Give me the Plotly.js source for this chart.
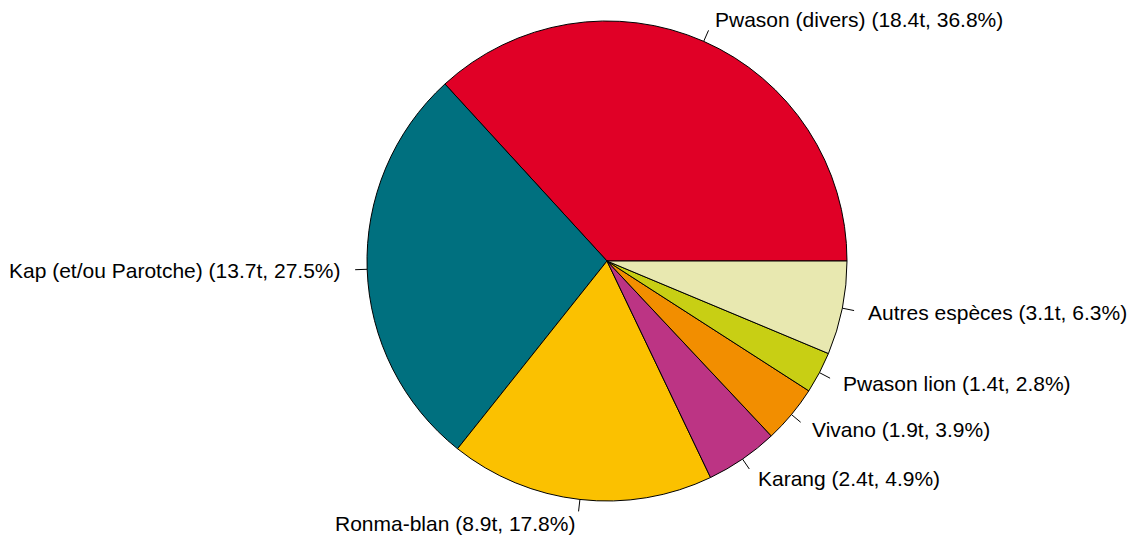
<!DOCTYPE html>
<html>
<head>
<meta charset="utf-8">
<script src="https://cdn.plot.ly/plotly-3.0.1.min.js"></script>
<style>html,body{margin:0;padding:0;background:#fff;}#chart{width:1134px;height:537px;}</style>
</head>
<body>
<div id="chart"></div>
<script>
var categories = ["Pwason (divers)", "Kap (et/ou Parotche)", "Ronma-blan", "Karang", "Vivano", "Pwason lion", "Autres espèces"];
var tonnes = [18.4, 13.7, 8.9, 2.4, 1.9, 1.4, 3.1];
var percents = [36.8, 27.5, 17.8, 4.9, 3.9, 2.8, 6.3];
var colors = ["#E00026", "#00707F", "#FBC100", "#BC3484", "#F28E00", "#C8CF14", "#E8E8B0"];

var W = 1134, H = 537;
var cx = 607, cy = 261, R = 240;
var dom = {x: [(cx - R) / W, (cx + R) / W], y: [(H - cy - R) / H, (H - cy + R) / H]};

var labels = categories.map(function (c, i) {
  return c + " (" + tonnes[i].toFixed(1) + "t, " + percents[i].toFixed(1) + "%)";
});

var total = percents.reduce(function (a, b) { return a + b; }, 0);
var annotations = [], shapes = [];
var cum = 0;
percents.forEach(function (p, i) {
  var mid = (cum + p / 2) / total * 2 * Math.PI;
  cum += p;
  var c = Math.cos(mid), s = Math.sin(mid);
  function px(f) { return (cx + f * R * c) / W; }
  function py(f) { return (H - cy + f * R * s) / H; }
  shapes.push({type: "line", xref: "paper", yref: "paper",
    x0: px(1), y0: py(1), x1: px(1.05), y1: py(1.05),
    line: {color: "#000", width: 1}});
  annotations.push({xref: "paper", yref: "paper", x: px(1.1), y: py(1.1),
    text: labels[i], showarrow: false,
    xanchor: c < 0 ? "right" : "left", yanchor: "middle",
    font: {family: "Liberation Sans, Arial, sans-serif", size: 21, color: "#000"}});
});

var data = [{
  type: "pie",
  values: percents,
  labels: categories,
  sort: false,
  direction: "counterclockwise",
  rotation: 90 - 360 * percents[0] / total,
  textinfo: "none",
  hoverinfo: "label+percent",
  marker: {colors: colors, line: {color: "#000", width: 1}},
  domain: dom,
  showlegend: false
}];

var layout = {
  width: W, height: H,
  margin: {l: 0, r: 0, t: 0, b: 0},
  paper_bgcolor: "#fff",
  showlegend: false,
  annotations: annotations,
  shapes: shapes
};

Plotly.newPlot("chart", data, layout, {displayModeBar: false, staticPlot: true});
</script>
</body>
</html>
